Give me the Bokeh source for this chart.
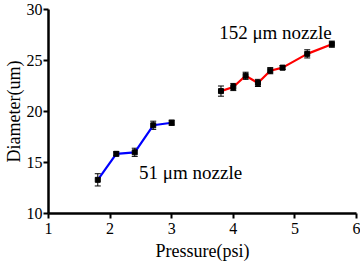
from bokeh.plotting import figure
from bokeh.models import ColumnDataSource, Whisker, TeeHead, Range1d, FixedTicker
from bokeh.embed import file_html
from bokeh.resources import INLINE
from bokeh.core.properties import value

# 51 um nozzle
p51 = [1.8, 2.1, 2.4, 2.7, 3.0]
d51 = [13.3, 15.85, 16.0, 18.65, 18.9]
e51 = [0.6, 0.2, 0.4, 0.4, 0.25]

# 152 um nozzle
p152 = [3.8, 4.0, 4.2, 4.4, 4.6, 4.8, 5.2, 5.6]
d152 = [22.0, 22.4, 23.5, 22.8, 24.0, 24.3, 25.65, 26.6]
e152 = [0.5, 0.35, 0.35, 0.35, 0.3, 0.2, 0.4, 0.3]

xticks = [1, 2, 3, 4, 5, 6]
yticks = [10, 15, 20, 25, 30]

FONT = "Liberation Serif"

p = figure(width=360, height=263, output_backend="svg", toolbar_location=None,
           x_range=Range1d(1, 6), y_range=Range1d(10, 30),
           min_border_left=46, min_border_right=4, min_border_top=9, min_border_bottom=50)
p.outline_line_color = None
p.grid.visible = False

for ax in (p.xaxis, p.yaxis):
    ax.axis_line_width = 2.5
    ax.axis_line_color = "black"
    ax.major_tick_line_width = 2
    ax.major_tick_line_color = "black"
    ax.major_tick_out = 5
    ax.major_tick_in = 0
    ax.minor_tick_line_color = None
    ax.major_label_text_font = FONT
    ax.major_label_text_font_size = "16px"
    ax.major_label_text_color = "black"
    ax.axis_label_text_font = FONT
    ax.axis_label_text_font_size = "18px"
    ax.axis_label_text_font_style = "normal"
    ax.axis_label_text_color = "black"

p.xaxis.ticker = FixedTicker(ticks=xticks)
p.yaxis.ticker = FixedTicker(ticks=yticks)
p.xaxis.axis_label = "Pressure(psi)"
p.yaxis.axis_label = "Diameter(um)"
p.xaxis.major_label_standoff = 4
p.yaxis.major_label_standoff = 1
p.xaxis.axis_label_standoff = 4
p.yaxis.axis_label_standoff = 0

def series(xs, ys, es, color):
    src = ColumnDataSource(dict(x=xs, y=ys,
                                lo=[y - e for y, e in zip(ys, es)],
                                hi=[y + e for y, e in zip(ys, es)]))
    p.line("x", "y", source=src, line_color=color, line_width=2.2)
    w = Whisker(base="x", lower="lo", upper="hi", source=src,
                line_color="black", line_width=1,
                upper_head=TeeHead(size=6, line_color="black", line_width=1),
                lower_head=TeeHead(size=6, line_color="black", line_width=1))
    p.add_layout(w)
    p.scatter("x", "y", source=src, marker="square", size=5,
              fill_color="black", line_color="black")

series(p51, d51, e51, "#0000ff")
series(p152, d152, e152, "#ff0000")

p.text(x=[3.77], y=[27.7], text=["152 \u03bcm nozzle"], text_font=value(FONT),
       text_font_size="19px", text_baseline="middle", text_align="left", text_color="black")
p.text(x=[2.47], y=[14.0], text=["51 \u03bcm nozzle"], text_font=value(FONT),
       text_font_size="19px", text_baseline="middle", text_align="left", text_color="black")

open("out.html", "w").write(file_html(p, INLINE))
